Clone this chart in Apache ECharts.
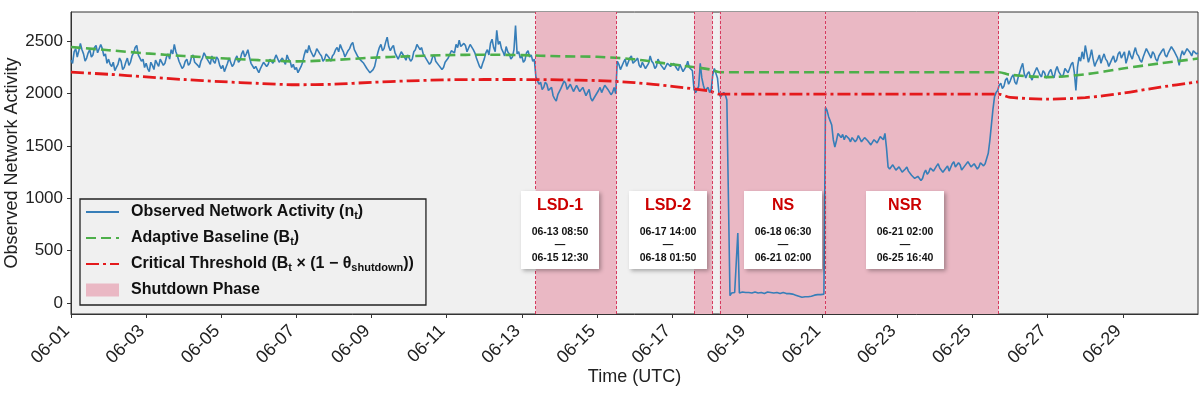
<!DOCTYPE html>
<html>
<head>
<meta charset="utf-8">
<script src="https://cdn.jsdelivr.net/npm/echarts@6/dist/echarts.min.js"></script>
<style>
  html, body { margin: 0; padding: 0; background: #fff; }
  #chart { width: 1200px; height: 400px; }
</style>
</head>
<body>
<div id="chart"></div>
<script>
// observed activity, one value per hour from 06-01 00:00 (one row per day)
var obsStart = '06-01 00:00';
var obsStepHours = 1;
var observed = [
  2320, 2290, 2400, 2430, 2350, 2410, 2480, 2420, 2380, 2310, 2340, 2390, 2420, 2350, 2370, 2440, 2460, 2390, 2400, 2470, 2430, 2360, 2380, 2290, // 06-01
  2330, 2280, 2260, 2300, 2220, 2250, 2280, 2340, 2310, 2230, 2250, 2300, 2340, 2270, 2300, 2360, 2390, 2440, 2460, 2370, 2380, 2310, 2330, 2250, // 06-02
  2290, 2240, 2210, 2300, 2270, 2230, 2320, 2290, 2260, 2330, 2340, 2270, 2290, 2350, 2380, 2330, 2420, 2380, 2470, 2400, 2360, 2310, 2300, 2240, // 06-03
  2260, 2310, 2330, 2270, 2290, 2350, 2370, 2300, 2310, 2270, 2250, 2310, 2340, 2390, 2400, 2330, 2320, 2280, 2360, 2310, 2290, 2350, 2330, 2270, // 06-04
  2240, 2270, 2210, 2250, 2290, 2340, 2330, 2260, 2280, 2330, 2360, 2300, 2320, 2380, 2410, 2350, 2380, 2420, 2350, 2290, 2300, 2240, 2260, 2230, // 06-05
  2200, 2240, 2250, 2300, 2310, 2260, 2280, 2330, 2340, 2290, 2300, 2370, 2360, 2300, 2290, 2340, 2330, 2280, 2370, 2330, 2310, 2250, 2280, 2230, // 06-06
  2250, 2200, 2210, 2260, 2300, 2370, 2420, 2390, 2460, 2410, 2400, 2350, 2380, 2430, 2440, 2380, 2360, 2310, 2330, 2380, 2390, 2340, 2310, 2360, // 06-07
  2380, 2420, 2440, 2400, 2470, 2430, 2400, 2350, 2360, 2410, 2430, 2470, 2490, 2420, 2410, 2360, 2370, 2320, 2330, 2290, 2280, 2240, 2220, 2200, // 06-08
  2190, 2230, 2260, 2330, 2390, 2440, 2470, 2410, 2430, 2490, 2540, 2450, 2410, 2440, 2460, 2390, 2380, 2330, 2340, 2400, 2390, 2350, 2320, 2370, // 06-09
  2360, 2310, 2330, 2400, 2420, 2470, 2480, 2420, 2440, 2380, 2390, 2330, 2340, 2280, 2300, 2350, 2370, 2310, 2320, 2270, 2280, 2230, 2250, 2300, // 06-10
  2290, 2340, 2350, 2410, 2420, 2390, 2470, 2440, 2510, 2450, 2440, 2480, 2460, 2400, 2410, 2470, 2480, 2420, 2390, 2340, 2300, 2260, 2240, 2290, // 06-11
  2330, 2390, 2420, 2370, 2480, 2520, 2440, 2400, 2605, 2470, 2500, 2430, 2400, 2360, 2450, 2400, 2380, 2330, 2350, 2420, 2650, 2380, 2400, 2340, // 06-12
  2360, 2300, 2320, 2390, 2410, 2350, 2370, 2310, 2330, 2160, 2150, 2090, 2110, 2040, 2060, 2110, 2090, 2030, 2020, 2060, 1980, 1950, 1930, 1990, // 06-13
  2000, 2050, 2060, 2120, 2100, 2040, 2040, 2090, 2080, 2020, 2030, 2080, 2070, 2020, 2010, 2060, 2050, 1980, 1990, 2040, 1960, 1930, 1920, 1980, // 06-14
  1990, 2030, 2060, 2010, 2020, 2080, 2090, 2040, 2040, 1990, 2010, 2060, 2000, 2310, 2280, 2230, 2240, 2300, 2330, 2260, 2270, 2340, 2360, 2290, // 06-15
  2280, 2320, 2340, 2270, 2250, 2300, 2310, 2240, 2230, 2290, 2360, 2310, 2290, 2240, 2260, 2330, 2320, 2270, 2280, 2230, 2240, 2290, 2300, 2260, // 06-16
  2250, 2290, 2300, 2240, 2220, 2280, 2270, 2210, 2200, 2260, 2310, 2250, 2260, 2220, 2040, 2010, 2000, 2070, 2290, 2150, 2080, 2030, 2020, 2060, // 06-17
  2010, 2040, 2180, 2240, 2230, 2150, 2000, 1970, 1960, 2010, 1990, 1940, 1950, 70, 95, 110, 100, 90, 668, 95, 100, 105, 95, 100,                 // 06-18
  110, 100, 100, 95, 95, 105, 105, 95, 90, 100, 100, 90, 95, 105, 110, 100, 100, 95, 90, 100, 95, 90, 105, 100,                                   // 06-19
  95, 90, 85, 90, 90, 85, 80, 75, 70, 65, 60, 55, 55, 60, 65, 60, 60, 65, 70, 75, 75, 80, 80, 80,                                                 // 06-20
  80, 85, 1870, 1840, 1780, 1740, 1700, 1560, 1490, 1550, 1620, 1600, 1580, 1610, 1560, 1600, 1610, 1570, 1540, 1580, 1590, 1540, 1560, 1600,     // 06-21
  1570, 1540, 1530, 1580, 1590, 1550, 1550, 1510, 1510, 1560, 1570, 1530, 1540, 1590, 1600, 1560, 1620, 1480, 1300, 1280, 1270, 1320, 1310, 1270, // 06-22
  1260, 1300, 1290, 1250, 1240, 1280, 1300, 1260, 1250, 1220, 1210, 1190, 1180, 1210, 1200, 1170, 1190, 1240, 1270, 1230, 1250, 1290, 1300, 1260, // 06-23
  1260, 1310, 1330, 1290, 1280, 1250, 1240, 1290, 1310, 1260, 1270, 1330, 1350, 1300, 1290, 1340, 1320, 1270, 1260, 1310, 1300, 1350, 1340, 1300, // 06-24
  1290, 1330, 1320, 1280, 1300, 1340, 1350, 1310, 1330, 1380, 1430, 1550, 1700, 1850, 1970, 2010, 2030, 2080, 2100, 2050, 2070, 2130, 2150, 2090, // 06-25
  2120, 2160, 2180, 2110, 2090, 2150, 2200, 2250, 2290, 2190, 2150, 2190, 2210, 2160, 2130, 2180, 2190, 2250, 2240, 2180, 2160, 2220, 2200, 2150, // 06-26
  2170, 2210, 2230, 2180, 2150, 2220, 2260, 2210, 2200, 2160, 2180, 2240, 2250, 2200, 2210, 2280, 2300, 2200, 2030, 2250, 2350, 2310, 2400, 2330, // 06-27
  2460, 2380, 2300, 2350, 2420, 2330, 2260, 2300, 2330, 2370, 2290, 2340, 2380, 2330, 2310, 2260, 2270, 2330, 2360, 2300, 2320, 2380, 2400, 2340, // 06-28
  2350, 2400, 2290, 2340, 2410, 2360, 2330, 2390, 2440, 2380, 2360, 2320, 2300, 2350, 2390, 2430, 2420, 2370, 2340, 2400, 2380, 2330, 2310, 2360, // 06-29
  2370, 2410, 2430, 2370, 2350, 2390, 2400, 2450, 2460, 2400, 2390, 2340, 2270, 2360, 2410, 2370, 2380, 2430, 2440, 2390, 2360, 2410, 2420, 2380, // 06-30
  2390                                                                                                                                             // 07-01 00:00
];

// adaptive baseline B_t
var baseTimes = ['06-01 00:00', '06-02 00:00', '06-03 00:00', '06-04 00:00', '06-05 00:00',
  '06-06 00:00', '06-07 00:00', '06-08 00:00', '06-09 00:00', '06-10 00:00', '06-11 00:00',
  '06-12 00:00', '06-13 00:00', '06-14 00:00', '06-15 00:00', '06-16 00:00', '06-17 00:00',
  '06-18 00:00', '06-18 06:30', '06-25 16:40', '06-26 00:00', '06-27 00:00', '06-28 00:00',
  '06-29 00:00', '06-30 00:00', '07-01 00:00'];
var baseVals = [2445, 2415, 2385, 2360, 2338, 2320, 2308, 2322, 2343, 2357, 2368,
  2372, 2368, 2357, 2352, 2328, 2280, 2232, 2205, 2205, 2180, 2158, 2185,
  2240, 2290, 2335];

// critical threshold
var thrVals = [2205, 2185, 2160, 2135, 2115, 2098, 2085, 2090, 2108, 2122, 2132,
  2135, 2135, 2132, 2125, 2105, 2070, 2025, 1995, 1995, 1965, 1948, 1962,
  2005, 2062, 2112];

// shutdown phases
var phaseNames = ['LSD-1', 'LSD-2', 'NS', 'NSR'];
var phaseStart = ['06-13 08:50', '06-17 14:00', '06-18 06:30', '06-21 02:00'];
var phaseEnd   = ['06-15 12:30', '06-18 01:50', '06-21 02:00', '06-25 16:40'];

var FONT = '"Liberation Sans", Arial, sans-serif';
var PINK = '#eab8c4';
var EDGE = '#d63a5e';

function t(s) {
  var p = s.split(/[- :]/);
  return Date.UTC(2024, +p[0] - 1, +p[1], +p[2], +p[3]);
}
function pad(n) { return (n < 10 ? '0' : '') + n; }

var t0 = t(obsStart);
var obsData = observed.map(function (v, i) {
  return [t0 + i * obsStepHours * 3600000, v];
});
var baseData = baseTimes.map(function (s, i) { return [t(s), baseVals[i]]; });
var thrData = baseTimes.map(function (s, i) { return [t(s), thrVals[i]]; });

var areas = phaseNames.map(function (n, i) {
  return [{ xAxis: t(phaseStart[i]) }, { xAxis: t(phaseEnd[i]) }];
});
var edges = [];
phaseNames.forEach(function (n, i) {
  [phaseStart[i], phaseEnd[i]].forEach(function (s) {
    if (edges.indexOf(t(s)) < 0) edges.push(t(s));
  });
});

var legendText = {
  obs: '{b|Observed Network Activity (n}{s|t}{b|)}',
  base: '{b|Adaptive Baseline (B}{s|t}{b|)}',
  thr: '{b|Critical Threshold (B}{s|t}{b| \u00d7 (1 \u2212 \u03b8}{s|shutdown}{b|))}',
  shut: '{b|Shutdown Phase}'
};

// annotation boxes
var boxLeft = [521, 629, 744, 866];
var graphics = phaseNames.map(function (n, i) {
  function txt(s, y, fill, font) {
    return { type: 'text', z: 100,
      style: { text: s, x: 39, y: y, align: 'center', verticalAlign: 'middle', fill: fill, font: font } };
  }
  return {
    type: 'group', left: boxLeft[i], top: 191, z: 100,
    children: [
      { type: 'rect', z: 99, shape: { x: 0, y: 0, width: 78, height: 78 },
        style: { fill: '#fff', shadowBlur: 4, shadowOffsetX: 2, shadowOffsetY: 2, shadowColor: 'rgba(0,0,0,0.3)' } },
      txt(n, 15, '#cc0000', 'bold 16px ' + FONT),
      txt(phaseStart[i], 41, '#111', 'bold 10.5px ' + FONT),
      txt('\u2014', 54, '#111', 'bold 10.5px ' + FONT),
      txt(phaseEnd[i], 67, '#111', 'bold 10.5px ' + FONT)
    ]
  };
});

var chart = echarts.init(document.getElementById('chart'), null, { renderer: 'canvas' });
chart.setOption({
  animation: false,
  grid: {
    left: 71, top: 12, width: 1127, height: 302,
    containLabel: false, outerBoundsMode: 'none',
    show: true, backgroundColor: '#f0f0f0', borderColor: '#333', borderWidth: 1
  },
  xAxis: {
    type: 'value',
    min: t('06-01 00:00'), max: t('07-01 00:00'),
    interval: 2 * 86400000,
    name: 'Time (UTC)', nameLocation: 'middle', nameGap: 54,
    nameMoveOverlap: false,
    nameTextStyle: { fontFamily: FONT, fontSize: 18, color: '#222' },
    axisLine: { onZero: false, lineStyle: { color: '#333', width: 1 } },
    axisTick: { length: 4, lineStyle: { color: '#333' } },
    splitLine: { show: false },
    axisLabel: {
      rotate: 45, fontFamily: FONT, fontSize: 18, color: '#222', margin: 10,
      padding: [0, 6, 0, 0],
      showMaxLabel: false,
      formatter: function (v) {
        var d = new Date(v);
        return pad(d.getUTCMonth() + 1) + '-' + pad(d.getUTCDate());
      }
    }
  },
  yAxis: {
    type: 'value', min: -105, max: 2780, splitNumber: 6,
    name: 'Observed Network Activity', nameLocation: 'middle', nameGap: 50,
    nameMoveOverlap: false,
    nameTextStyle: { fontFamily: FONT, fontSize: 18, color: '#222' },
    axisLine: { show: true, onZero: false, lineStyle: { color: '#333', width: 1 } },
    axisTick: { show: true, length: 4, lineStyle: { color: '#333' } },
    splitLine: { show: false },
    axisLabel: { fontFamily: FONT, fontSize: 17, color: '#222', margin: 8,
      showMinLabel: false, showMaxLabel: false,
      formatter: function (v) { return String(v); } }
  },
  legend: {
    orient: 'vertical', left: 80, top: 199,
    backgroundColor: '#f0f0f0', borderColor: '#222', borderWidth: 1.3,
    padding: [5, 12, 7, 5], itemWidth: 33, itemHeight: 13, itemGap: 9,
    data: [
      { name: 'obs', itemStyle: { opacity: 0 } },
      { name: 'base', itemStyle: { opacity: 0 } },
      { name: 'thr', itemStyle: { opacity: 0 } },
      { name: 'shut', icon: 'rect' }
    ],
    formatter: function (name) { return legendText[name]; },
    textStyle: {
      fontFamily: FONT, fontWeight: 'bold', fontSize: 16, color: '#111', padding: [0, 0, 0, 7],
      rich: {
        b: { fontFamily: FONT, fontWeight: 'bold', fontSize: 16, color: '#111', lineHeight: 18 },
        s: { fontFamily: FONT, fontWeight: 'bold', fontSize: 11, color: '#111', lineHeight: 9, verticalAlign: 'bottom' }
      }
    }
  },
  graphic: graphics,
  series: [
    {
      name: 'shut', type: 'line', data: [], color: PINK, z: 1,
      markArea: { silent: true, itemStyle: { color: PINK }, data: areas },
      markLine: {
        silent: true, symbol: ['none', 'none'], label: { show: false },
        lineStyle: { color: EDGE, width: 1, type: [3, 2] },
        data: edges.map(function (v) { return { xAxis: v }; })
      }
    },
    {
      name: 'obs', type: 'line', data: obsData, z: 3,
      symbol: 'none', showSymbol: false, color: '#377eb8',
      lineStyle: { color: '#377eb8', width: 1.6 }
    },
    {
      name: 'base', type: 'line', data: baseData, z: 4, smooth: 0.3,
      symbol: 'none', showSymbol: false, color: '#4daf4a',
      lineStyle: { color: '#4daf4a', width: 2.6, type: [10, 5] }
    },
    {
      name: 'thr', type: 'line', data: thrData, z: 4, smooth: 0.3,
      symbol: 'none', showSymbol: false, color: '#e41a1c',
      lineStyle: { color: '#e41a1c', width: 2.8, type: [13, 4, 3, 4] }
    }
  ]
});
</script>
</body>
</html>
